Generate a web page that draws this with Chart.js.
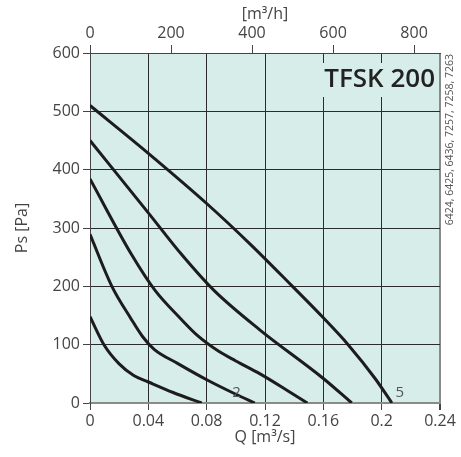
<!DOCTYPE html>
<html><head><meta charset="utf-8">
<script src="https://cdn.jsdelivr.net/npm/chart.js@4/dist/chart.umd.min.js"></script>
<style>html,body{margin:0;padding:0;background:#fff;}canvas{display:block;}</style>
</head><body>
<canvas id="c" width="461" height="457"></canvas>
<script>
// ---- data ----
const curve1Q = [0, 0.010, 0.020, 0.030, 0.040, 0.057, 0.0766];
const curve1P = [148, 98, 67, 47, 36, 18, 0];
const curve2Q = [0, 0.015, 0.028, 0.036, 0.044, 0.060, 0.0807, 0.100, 0.113];
const curve2P = [289, 200, 145, 114, 92, 68, 39, 15, 0];
const curve3Q = [0, 0.0286, 0.0446, 0.062, 0.074, 0.088, 0.100, 0.1166, 0.135, 0.149];
const curve3P = [384, 254, 193, 145, 115, 89, 72, 50, 22, 0];
const curve4Q = [0, 0.040, 0.063, 0.085, 0.1166, 0.160, 0.1795];
const curve4P = [450, 326, 254, 193, 125, 42, 0];
const curve5Q = [0, 0.040, 0.080, 0.110, 0.138, 0.160, 0.177, 0.1955, 0.207];
const curve5P = [510, 428, 342, 272, 202, 146, 100, 42, 0];

const qTicks = [0, 0.04, 0.08, 0.12, 0.16, 0.2, 0.24];
const hourTicks = [0, 200, 400, 600, 800];
const pTicks = [0, 100, 200, 300, 400, 500, 600];
const curveTags = [{text: '2', q: 0.1005, p: 18}, {text: '5', q: 0.2125, p: 18}];
const chartTitle = 'TFSK 200';
const codeText = '6424, 6425, 6436, 7257, 7258, 7263';
const xTitle = 'Q [m³/s]';
const topTitle = '[m³/h]';
const yTitle = 'Ps [Pa]';

const SECONDS_PER_HOUR = 3600;
const FONT = '"Open Sans", "Noto Sans", sans-serif';
const BG = '#d7ede9';
const LABEL = '#444';

const curves = [[curve1Q, curve1P], [curve2Q, curve2P], [curve3Q, curve3P], [curve4Q, curve4P], [curve5Q, curve5P]];

const decorPlugin = {
  id: 'decor',
  beforeDraw(chart) {
    const {ctx, chartArea: a} = chart;
    ctx.save();
    ctx.fillStyle = BG;
    ctx.fillRect(a.left, a.top, a.right - a.left, a.bottom - a.top);
    ctx.restore();
  },
  afterDraw(chart) {
    const {ctx, chartArea: a, scales} = chart;
    ctx.save();
    // title box
    ctx.font = '600 26px ' + FONT;
    const w = ctx.measureText(chartTitle).width;
    const tx = a.right - 5, ty = a.top + 27;
    ctx.fillStyle = BG;
    ctx.fillRect(tx - w - 4, ty - 17, w + 8, 34);
    ctx.fillStyle = '#222';
    ctx.textAlign = 'right';
    ctx.textBaseline = 'middle';
    ctx.fillText(chartTitle, tx, ty);
    // curve tags
    ctx.font = '15px ' + FONT;
    ctx.fillStyle = '#555';
    ctx.textAlign = 'center';
    curveTags.forEach(t => {
      ctx.fillText(t.text, scales.x.getPixelForValue(t.q), scales.y.getPixelForValue(t.p));
    });
    // rotated code text
    ctx.translate(a.right + 10, a.top + 1);
    ctx.rotate(-Math.PI / 2);
    ctx.font = '10.5px ' + FONT;
    ctx.fillStyle = '#555';
    ctx.textAlign = 'right';
    ctx.textBaseline = 'middle';
    ctx.fillText(codeText, 0, 0);
    ctx.restore();
  }
};

const fixTicks = arr => scale => { scale.ticks = arr.map(v => ({value: v})); };
const fmt = v => String(Number(v.toFixed(2)));

new Chart(document.getElementById('c'), {
  type: 'scatter',
  data: {
    datasets: curves.map(([q, p]) => ({
      data: q.map((x, i) => ({x, y: p[i]})),
      showLine: true,
      borderColor: '#1c1c1c',
      borderWidth: 3,
      pointRadius: 0,
      cubicInterpolationMode: 'monotone',
      fill: false
    }))
  },
  options: {
    responsive: false,
    animation: false,
    layout: {padding: {left: 0, right: 21, top: 0, bottom: 0}},
    plugins: {legend: {display: false}, tooltip: {enabled: false}},
    scales: {
      x: {
        type: 'linear', position: 'bottom', min: 0, max: 0.24,
        afterBuildTicks: fixTicks(qTicks),
        afterFit: s => { s.height = 54; },
        ticks: {callback: fmt, color: LABEL, font: {family: FONT, size: 16}, padding: 2, maxRotation: 0, autoSkip: false},
        grid: {
          color: c => (c.tick && c.tick.value >= 0.24) ? '#8a8a8a' : '#2b2b2b',
          lineWidth: c => (c.tick && c.tick.value >= 0.24) ? 2 : 1,
          tickLength: 7, tickColor: '#444'
        },
        border: {display: true, color: '#8a8a8a', width: 2},
        title: {display: true, text: xTitle, color: LABEL, font: {family: FONT, size: 16}, padding: {top: 0, bottom: 10}}
      },
      x2: {
        type: 'linear', position: 'top', min: 0, max: 0.24 * SECONDS_PER_HOUR,
        afterBuildTicks: fixTicks(hourTicks),
        afterFit: s => { s.height = 53; },
        ticks: {color: LABEL, font: {family: FONT, size: 16}, padding: 2, maxRotation: 0, autoSkip: false},
        grid: {drawOnChartArea: false, tickLength: 8, color: '#444'},
        border: {display: true, color: '#444', width: 1},
        title: {display: true, text: topTitle, color: LABEL, font: {family: FONT, size: 16}, padding: {top: 5, bottom: 0}}
      },
      y: {
        type: 'linear', position: 'left', min: 0, max: 600,
        afterBuildTicks: fixTicks(pTicks),
        afterFit: s => { s.width = 90; },
        ticks: {color: LABEL, font: {family: FONT, size: 16}, padding: 3},
        grid: {
          color: c => (c.tick && c.tick.value === 0) ? '#8a8a8a' : '#2b2b2b',
          tickLength: 7, tickColor: '#444'
        },
        border: {display: true, color: '#444', width: 1},
        title: {display: true, text: yTitle, color: LABEL, font: {family: FONT, size: 16}, padding: {top: 13, bottom: 0}}
      }
    }
  },
  plugins: [decorPlugin]
});
</script>
</body></html>
